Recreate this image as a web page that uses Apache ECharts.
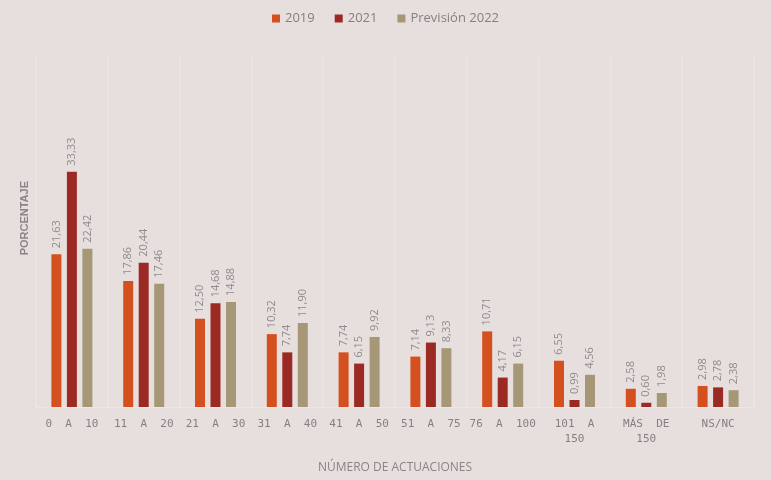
<!DOCTYPE html>
<html>
<head>
<meta charset="utf-8">
<script src="https://cdn.jsdelivr.net/npm/echarts@6/dist/echarts.min.js"></script>
<style>
  html, body { margin: 0; padding: 0; background: #e7dfde; }
  #chart { width: 771px; height: 480px; }
</style>
</head>
<body>
<div id="chart"></div>
<script>
// Rangos de número de actuaciones
const categories = ['0 A 10', '11 A 20', '21 A 30', '31 A 40', '41 A 50', '51 A 75', '76 A 100', '101 A\n150', 'MÁS DE\n150', 'NS/NC'];
// Porcentajes por año
const values2019 = [21.63, 17.86, 12.50, 10.32, 7.74, 7.14, 10.71, 6.55, 2.58, 2.98];
const values2021 = [33.33, 20.44, 14.68, 7.74, 6.15, 9.13, 4.17, 0.99, 0.60, 2.78];
const values2022 = [22.42, 17.46, 14.88, 11.90, 9.92, 8.33, 6.15, 4.56, 1.98, 2.38];
const seriesNames = ['2019', '2021', 'Previsión 2022'];

const labelColor = '#8f8a8a';
const fontFamily = 'Open Sans, Lato, sans-serif';

function makeSeries(name, data, color) {
  return {
    name: name,
    type: 'bar',
    data: data,
    barWidth: 10,
    barGap: '55%',
    itemStyle: { color: color },
    label: {
      show: true,
      position: 'top',
      rotate: 90,
      align: 'left',
      verticalAlign: 'middle',
      distance: 6,
      color: labelColor,
      fontSize: 11,
      fontFamily: fontFamily,
      formatter: p => p.value.toFixed(2).replace('.', ',')
    }
  };
}

const chart = echarts.init(document.getElementById('chart'), null, { renderer: 'canvas' });
chart.setOption({
  backgroundColor: '#e7dfde',
  animation: false,
  legend: {
    top: 7,
    left: 'center',
    itemWidth: 8,
    itemHeight: 8,
    itemGap: 20,
    icon: 'rect',
    textStyle: { color: '#858080', fontSize: 13, fontFamily: fontFamily }
  },
  grid: { left: 36, right: 17, top: 54, bottom: 73 },
  graphic: [{
    type: 'text',
    left: 19,
    top: 181,
    rotation: Math.PI / 2,
    style: {
      text: 'PORCENTAJE',
      fill: '#8a8585',
      fontSize: 11,
      fontWeight: 'bold',
      fontFamily: 'Liberation Sans, Arial, sans-serif'
    }
  }],
  xAxis: {
    type: 'category',
    data: categories,
    boundaryGap: true,
    name: 'NÚMERO DE ACTUACIONES',
    nameLocation: 'middle',
    nameGap: 55,
    nameTextStyle: { color: '#8a8585', fontSize: 12, fontFamily: fontFamily },
    axisLine: { show: true, lineStyle: { color: '#ece6e5', width: 1 } },
    axisTick: { show: false },
    axisLabel: {
      color: '#858080',
      fontSize: 11,
      fontFamily: 'DejaVu Sans Mono, monospace',
      margin: 10,
      interval: 0,
      lineHeight: 15,
      formatter: v => v.replace(/ /g, '  ')
    },
    splitLine: { show: true, lineStyle: { color: '#e9e3e2', width: 2 } }
  },
  yAxis: {
    type: 'value',
    min: 0,
    max: 50,
    axisLine: { show: false },
    axisTick: { show: false },
    axisLabel: { show: false },
    splitLine: { show: false }
  },
  series: [
    makeSeries(seriesNames[0], values2019, '#d4501f'),
    makeSeries(seriesNames[1], values2021, '#9c2a24'),
    makeSeries(seriesNames[2], values2022, '#a69877')
  ]
});
</script>
</body>
</html>
